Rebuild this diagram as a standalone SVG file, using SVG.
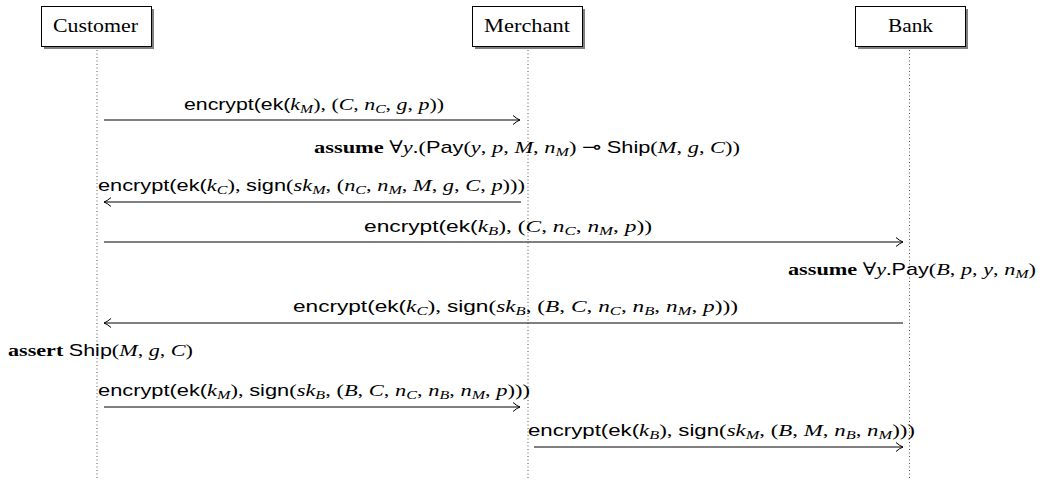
<svg xmlns="http://www.w3.org/2000/svg" width="1043" height="480" viewBox="0 0 1043 480">
  <style>
    .box { fill: #ffffff; stroke: #000000; stroke-width: 1; }
    .shadow { fill: #808080; }
    .name { font-family: "Liberation Serif", "DejaVu Serif", serif; font-size: 18.5px; fill: #000; }
    .life { stroke: #555555; stroke-width: 1; stroke-dasharray: 1 2.5; fill: none; }
    .msg { stroke: #000000; stroke-width: 1; fill: none; marker-end: url(#to); }
    .lbl { font-family: "Liberation Serif", "DejaVu Serif", serif; font-size: 17.5px; fill: #000; }
    .sf { font-family: "Liberation Sans", "DejaVu Sans", sans-serif; font-style: normal; font-size: 17px; }
    .mi { font-style: italic; }
    .sub { font-style: italic; font-size: 12.5px; }
    .bf { font-weight: bold; }
  </style>
  <defs>
    <marker id="to" markerUnits="userSpaceOnUse" markerWidth="14" markerHeight="12" refX="9" refY="6" orient="auto" overflow="visible">
      <path d="M 2 1.5 Q 6 5 9 6 Q 6 7 2 10.5" fill="none" stroke="#000" stroke-width="1"/>
    </marker>
  </defs>

  <!-- participants -->
  <g id="customer">
    <rect class="shadow" x="44" y="9" width="110" height="40"/>
    <rect class="box" x="41.5" y="6.5" width="110" height="40"/>
    <text class="name" x="53" y="32" textLength="85" lengthAdjust="spacingAndGlyphs">Customer</text>
    <line class="life" x1="97" y1="50" x2="97" y2="480"/>
  </g>
  <g id="merchant">
    <rect class="shadow" x="475" y="9" width="110" height="40"/>
    <rect class="box" x="472.5" y="6.5" width="110" height="40"/>
    <text class="name" x="484" y="32" textLength="86" lengthAdjust="spacingAndGlyphs">Merchant</text>
    <line class="life" x1="528" y1="50" x2="528" y2="480"/>
  </g>
  <g id="bank">
    <rect class="shadow" x="858" y="9" width="110" height="40"/>
    <rect class="box" x="855.5" y="6.5" width="110" height="40"/>
    <text class="name" x="888" y="32" textLength="45" lengthAdjust="spacingAndGlyphs">Bank</text>
    <line class="life" x1="909.5" y1="50" x2="909.5" y2="480"/>
  </g>

  <!-- messages -->
  <g id="connectors">
    <line class="msg" x1="104" y1="120" x2="520" y2="120"/>
    <line class="msg" x1="521" y1="202" x2="104" y2="202"/>
    <line class="msg" x1="104" y1="242" x2="903" y2="242"/>
    <line class="msg" x1="903" y1="323" x2="104" y2="323"/>
    <line class="msg" x1="104" y1="407" x2="520" y2="407"/>
    <line class="msg" x1="534" y1="447" x2="903" y2="447"/>
  </g>

  <!-- labels -->
  <g id="labels">
    <text class="lbl" x="184" y="110" textLength="260" lengthAdjust="spacingAndGlyphs"><tspan class="sf">encrypt(ek(</tspan><tspan class="mi">k</tspan><tspan class="sub" dy="3">M</tspan><tspan dy="-3">), (</tspan><tspan class="mi">C</tspan>, <tspan class="mi">n</tspan><tspan class="sub" dy="3">C</tspan><tspan dy="-3">, </tspan><tspan class="mi">g</tspan>, <tspan class="mi">p</tspan>))</text>

    <text class="lbl" x="314" y="153" textLength="426" lengthAdjust="spacingAndGlyphs"><tspan class="bf">assume</tspan> ∀<tspan class="mi">y</tspan>.(<tspan class="sf">Pay</tspan>(<tspan class="mi">y</tspan>, <tspan class="mi">p</tspan>, <tspan class="mi">M</tspan>, <tspan class="mi">n</tspan><tspan class="sub" dy="3">M</tspan><tspan dy="-3">) ⊸ </tspan><tspan class="sf">Ship</tspan>(<tspan class="mi">M</tspan>, <tspan class="mi">g</tspan>, <tspan class="mi">C</tspan>))</text>

    <text class="lbl" x="98" y="191" textLength="427" lengthAdjust="spacingAndGlyphs"><tspan class="sf">encrypt(ek(</tspan><tspan class="mi">k</tspan><tspan class="sub" dy="3">C</tspan><tspan dy="-3">), </tspan><tspan class="sf">sign</tspan>(<tspan class="mi">sk</tspan><tspan class="sub" dy="3">M</tspan><tspan dy="-3">, (</tspan><tspan class="mi">n</tspan><tspan class="sub" dy="3">C</tspan><tspan dy="-3">, </tspan><tspan class="mi">n</tspan><tspan class="sub" dy="3">M</tspan><tspan dy="-3">, </tspan><tspan class="mi">M</tspan>, <tspan class="mi">g</tspan>, <tspan class="mi">C</tspan>, <tspan class="mi">p</tspan>)))</text>

    <text class="lbl" x="364" y="232" textLength="288" lengthAdjust="spacingAndGlyphs"><tspan class="sf">encrypt(ek(</tspan><tspan class="mi">k</tspan><tspan class="sub" dy="3">B</tspan><tspan dy="-3">), (</tspan><tspan class="mi">C</tspan>, <tspan class="mi">n</tspan><tspan class="sub" dy="3">C</tspan><tspan dy="-3">, </tspan><tspan class="mi">n</tspan><tspan class="sub" dy="3">M</tspan><tspan dy="-3">, </tspan><tspan class="mi">p</tspan>))</text>

    <text class="lbl" x="788" y="275" textLength="248" lengthAdjust="spacingAndGlyphs"><tspan class="bf">assume</tspan> ∀<tspan class="mi">y</tspan>.<tspan class="sf">Pay</tspan>(<tspan class="mi">B</tspan>, <tspan class="mi">p</tspan>, <tspan class="mi">y</tspan>, <tspan class="mi">n</tspan><tspan class="sub" dy="3">M</tspan><tspan dy="-3">)</tspan></text>

    <text class="lbl" x="293" y="312" textLength="445" lengthAdjust="spacingAndGlyphs"><tspan class="sf">encrypt(ek(</tspan><tspan class="mi">k</tspan><tspan class="sub" dy="3">C</tspan><tspan dy="-3">), </tspan><tspan class="sf">sign</tspan>(<tspan class="mi">sk</tspan><tspan class="sub" dy="3">B</tspan><tspan dy="-3">, (</tspan><tspan class="mi">B</tspan>, <tspan class="mi">C</tspan>, <tspan class="mi">n</tspan><tspan class="sub" dy="3">C</tspan><tspan dy="-3">, </tspan><tspan class="mi">n</tspan><tspan class="sub" dy="3">B</tspan><tspan dy="-3">, </tspan><tspan class="mi">n</tspan><tspan class="sub" dy="3">M</tspan><tspan dy="-3">, </tspan><tspan class="mi">p</tspan>)))</text>

    <text class="lbl" x="8" y="356" textLength="185" lengthAdjust="spacingAndGlyphs"><tspan class="bf">assert</tspan> <tspan class="sf">Ship</tspan>(<tspan class="mi">M</tspan>, <tspan class="mi">g</tspan>, <tspan class="mi">C</tspan>)</text>

    <text class="lbl" x="98" y="396" textLength="432" lengthAdjust="spacingAndGlyphs"><tspan class="sf">encrypt(ek(</tspan><tspan class="mi">k</tspan><tspan class="sub" dy="3">M</tspan><tspan dy="-3">), </tspan><tspan class="sf">sign</tspan>(<tspan class="mi">sk</tspan><tspan class="sub" dy="3">B</tspan><tspan dy="-3">, (</tspan><tspan class="mi">B</tspan>, <tspan class="mi">C</tspan>, <tspan class="mi">n</tspan><tspan class="sub" dy="3">C</tspan><tspan dy="-3">, </tspan><tspan class="mi">n</tspan><tspan class="sub" dy="3">B</tspan><tspan dy="-3">, </tspan><tspan class="mi">n</tspan><tspan class="sub" dy="3">M</tspan><tspan dy="-3">, </tspan><tspan class="mi">p</tspan>)))</text>

    <text class="lbl" x="528" y="436" textLength="387" lengthAdjust="spacingAndGlyphs"><tspan class="sf">encrypt(ek(</tspan><tspan class="mi">k</tspan><tspan class="sub" dy="3">B</tspan><tspan dy="-3">), </tspan><tspan class="sf">sign</tspan>(<tspan class="mi">sk</tspan><tspan class="sub" dy="3">M</tspan><tspan dy="-3">, (</tspan><tspan class="mi">B</tspan>, <tspan class="mi">M</tspan>, <tspan class="mi">n</tspan><tspan class="sub" dy="3">B</tspan><tspan dy="-3">, </tspan><tspan class="mi">n</tspan><tspan class="sub" dy="3">M</tspan><tspan dy="-3">)))</tspan></text>
  </g>
</svg>
